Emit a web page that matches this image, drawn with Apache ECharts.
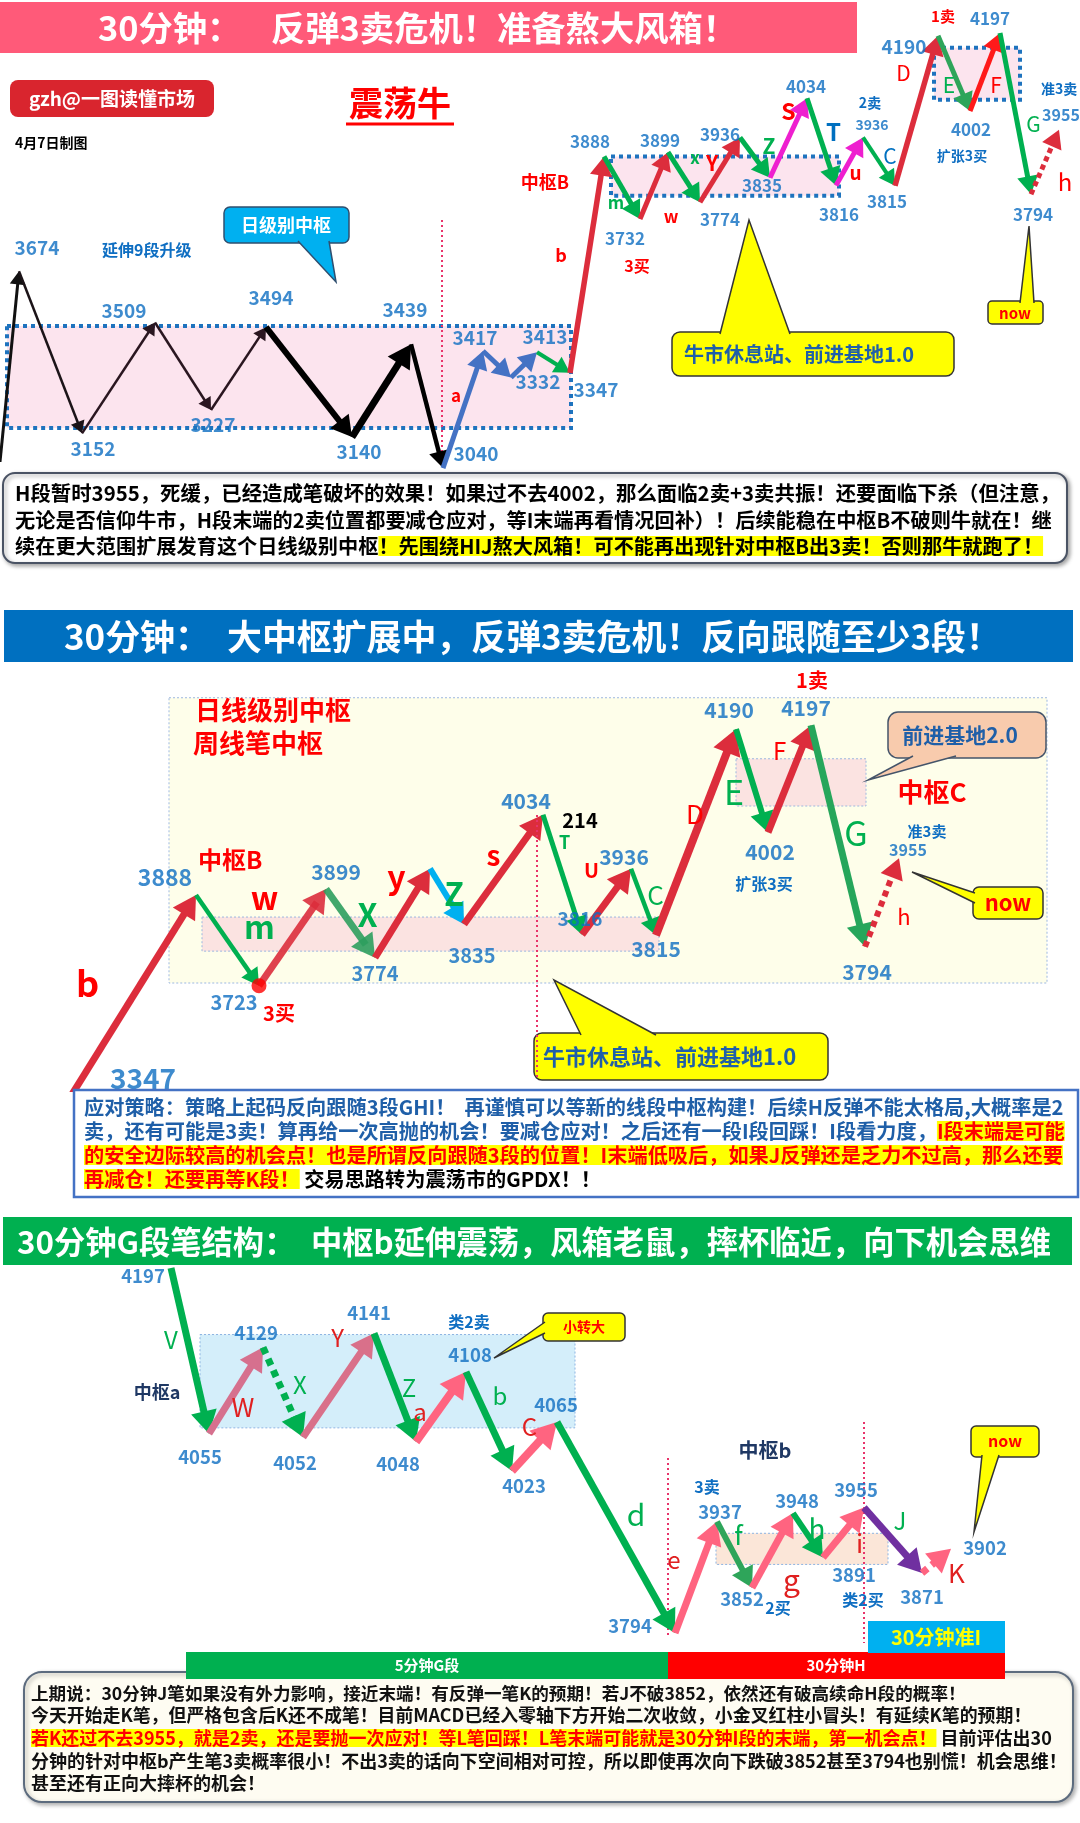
<!DOCTYPE html>
<html>
<head>
<meta charset="utf-8">
<script src="https://cdn.jsdelivr.net/npm/echarts/dist/echarts.min.js"></script>
<style>
html,body{margin:0;padding:0;background:#ffffff;}
#chart{width:1080px;height:1823px;}
</style>
</head>
<body>
<div id="chart"></div>
<script>
// ======================= DATA =======================
// Panel 1 : 30分钟 overview  (left = daily pivot zone, right = 中枢B onwards)
const topLeftTime  = [0, 19, 82, 155, 211, 266, 352, 411, 443, 483, 511, 537, 570];
const topLeftPrice = [3060, 3674, 3152, 3509, 3227, 3494, 3140, 3439, 3040, 3417, 3332, 3413, 3347];
const topLeftSegNames = ['', '', '', '', '', '', '', '', 'a', '', '', ''];
const topRightTime  = [570, 604, 640, 668, 700, 740, 770, 807, 836, 863, 895, 938, 970, 1000, 1031, 1059];
const topRightPrice = [3347, 3888, 3732, 3899, 3774, 3936, 3835, 4034, 3816, 3936, 3815, 4190, 4002, 4197, 3794, 3955];
const topRightSegNames = ['b', 'm', 'w', 'x', 'Y', 'Z', 'S', 'T', 'u', 'C', 'D', 'E', 'F', 'G', 'h'];
const topLeftZones  = [[7, 571, 3169, 3498]];
const topRightZones = [[611, 839, 3790, 3888], [934, 1020, 4030, 4160]];

// Panel 2 : 大中枢扩展
const midTime  = [11, 196, 259, 326, 375, 430, 464, 543, 582, 631, 656, 736, 768, 811, 865, 899];
const midPrice = [3347, 3888, 3723, 3899, 3774, 3936, 3835, 4034, 3816, 3936, 3815, 4190, 4002, 4197, 3794, 3955];
const midSegNames = ['b', 'm', 'w', 'X', 'y', 'Z', 's', 'T', 'U', 'C', 'D', 'E', 'F', 'G', 'h'];
const midZones = [[169, 1047, 3728, 4247], [202, 659, 3786, 3848], [736, 866, 4050, 4136]];
const midBuyPointIndex = 2; // 3723 三买

// Panel 3 : G段笔结构 (left = 中枢a part, right = 中枢b part)
const botLeftTime  = [171, 209, 263, 303, 374, 416, 466, 512, 557];
const botLeftPrice = [4197, 4055, 4129, 4052, 4141, 4048, 4108, 4023, 4065];
const botLeftSegNames = ['V', 'W', 'X', 'Y', 'Z', 'a', 'b', 'C'];
const botRightTime  = [557, 675, 717, 752, 793, 823, 864, 922, 951];
const botRightPrice = [4065, 3794, 3937, 3852, 3948, 3891, 3955, 3871, 3902];
const botRightSegNames = ['d', 'e', 'f', 'g', 'h', 'i', 'J', 'K'];
const botLeftZones  = [[200, 575, 4060, 4140]];
const botRightZones = [[716, 888, 3882, 3922]];

// ======================= STYLES =======================
const FONT = '"Noto Sans CJK SC","Noto Sans",sans-serif';
const LBLUE = '#0E6EC2', RED = '#DC2D3C', GRN = '#00B050', MAG = '#EE1FCF', PNK = '#FF6480', TRED = '#FF0000';
function S(c, w, o) { return Object.assign({c: c, w: w}, o || {}); }

const topLeftSegStyle = [
  S('#111111', 3), S('#1c1418', 2.5), S('#2a1620', 2.5), S('#2a1620', 2.5), S('#2a1620', 2.5),
  S('#000000', 6), S('#000000', 7), S('#000000', 4.5),
  S('#4472C4', 5, {tc: TRED, fs: 17, fw: 'bold', lx: -7, ly: -14}),
  S('#4472C4', 5), S('#4472C4', 5), S(GRN, 4)
];
const topRightSegStyle = [
  S(RED, 5.5, {tc: TRED, fs: 18, fw: 'bold', lx: -26, ly: -10}),
  S(GRN, 5, {tc: GRN, fs: 17, fw: 'bold', lx: -6, ly: 15}),
  S(RED, 5, {tc: TRED, fs: 17, fw: 'bold', lx: 17, ly: 31}),
  S(GRN, 5, {tc: GRN, fs: 17, fw: 'bold', lx: 11, ly: -20}),
  S(RED, 5, {tc: TRED, fs: 21, fw: 'bold', lx: -8, ly: -7}),
  S(GRN, 5, {tc: GRN, fs: 21, fw: 'bold', lx: 14, ly: -12}),
  S(MAG, 5, {tc: TRED, fs: 23, fw: 'bold', lx: 0, ly: -27}),
  S(GRN, 5, {tc: '#0070C0', fs: 24, fw: 'bold', lx: 12, ly: -10}),
  S(MAG, 5, {tc: TRED, fs: 19, fw: 'bold', lx: 6, ly: 11}),
  S(GRN, 4, {tc: '#0070C0', fs: 21, lx: 11, ly: -6}),
  S(RED, 5.5, {tc: TRED, fs: 21, lx: -13, ly: -38}),
  S('#2EA55A', 5, {tc: GRN, fs: 21, lx: -5, ly: 12}),
  S('#FF1A1A', 5, {tc: TRED, fs: 21, lx: 11, ly: 13}),
  S(GRN, 5, {tc: GRN, fs: 21, lx: 18, ly: 10}),
  S(RED, 5, {dash: true, tc: TRED, fs: 24, lx: 20, ly: 20})
];
const midSegStyle = [
  S(RED, 7, {tc: TRED, fs: 36, fw: 'bold', lx: -16, ly: -60}),
  S(GRN, 4.5, {tc: GRN, fs: 32, fw: 'bold', lx: 32, ly: -14}),
  S(RED, 7, {o: 0.9, tc: TRED, fs: 32, fw: 'bold', lx: -28, ly: -40}),
  S('#2E9E5E', 7, {o: 0.9, tc: GRN, fs: 32, fw: 'bold', lx: 17, ly: -9}),
  S(RED, 7, {tc: TRED, fs: 32, fw: 'bold', lx: -6, ly: -36}),
  S('#00B0F0', 6, {tc: GRN, fs: 32, fw: 'bold', lx: 7, ly: -3}),
  S(RED, 7, {tc: TRED, fs: 28, fw: 'bold', lx: -10, ly: -14}),
  S(GRN, 5, {tc: GRN, fs: 18, fw: 'bold', lx: 2, ly: -33}),
  S(RED, 7, {tc: TRED, fs: 20, fw: 'bold', lx: -15, ly: -31}),
  S(GRN, 4.5, {tc: GRN, fs: 26, lx: 12, ly: -7}),
  S(RED, 8, {tc: TRED, fs: 26, lx: -1, ly: -18}),
  S(GRN, 6, {tc: GRN, fs: 34, lx: -18, ly: 11}),
  S(RED, 7, {tc: TRED, fs: 24, lx: -10, ly: -28}),
  S('#26A65B', 7, {tc: GRN, fs: 34, lx: 18, ly: -3}),
  S(RED, 6, {dash: true, tc: TRED, fs: 22, lx: 22, ly: 14})
];
const botLeftSegStyle = [
  S(GRN, 7, {tc: GRN, fs: 24, lx: -19, ly: -11}),
  S('#D6708E', 7, {tc: '#E02020', fs: 26, lx: 7, ly: 17}),
  S(GRN, 7, {dash: true, tc: GRN, fs: 24, lx: 17, ly: -7}),
  S('#D9708A', 7, {tc: '#E02020', fs: 24, lx: -1, ly: -47}),
  S(GRN, 7, {tc: GRN, fs: 24, lx: 14, ly: 0}),
  S(PNK, 8, {tc: '#E02020', fs: 24, lx: -21, ly: 5}),
  S(GRN, 7, {tc: GRN, fs: 24, lx: 11, ly: -26}),
  S(PNK, 8, {tc: '#E02020', fs: 24, lx: -5, ly: -20})
];
const botRightSegStyle = [
  S(GRN, 7, {tc: GRN, fs: 30, lx: 20, ly: -13}),
  S(PNK, 7, {tc: '#E02020', fs: 24, lx: -22, ly: -17}),
  S('#2EA55A', 6, {tc: GRN, fs: 26, lx: 4, ly: -20}),
  S(PNK, 7, {tc: '#E02020', fs: 30, lx: 19, ly: 29}),
  S(GRN, 6, {tc: GRN, fs: 28, lx: 9, ly: -7}),
  S(PNK, 7, {tc: '#E02020', fs: 26, lx: 16, ly: 11}),
  S('#7030A0', 7, {tc: GRN, fs: 24, lx: 7, ly: -19}),
  S(PNK, 7, {dash: true, tc: '#E02020', fs: 26, lx: 20, ly: 12})
];

// label placement (dx, dy, fontSize) – null = no label
const topLeftLabelPos = [null, [18,-23,19], [11,15,19], [-31,-12,19], [2,15,19], [5,-29,19], [7,15,19], [-6,-34,19], [33,-14,19], [-8,-13,19], [27,4,19], [8,-16,19], null];
const topRightLabelPos = [[26,17,19], [-14,-15,17], [-15,20,17], [-8,-12,17], [20,17,17], [-20,-3,17], [-8,8,17], [-1,-12,17], [3,29,17], [9,-13,14], [-8,16,17], [-34,11,19], [1,19,17], [-10,-14,17], [2,20,17], [2,-15,16]];
const midLabelPos = [[132,-114,28], [-31,-18,23], [-25,17,20], [10,-17,21], [0,16,20], null, [8,31,20], [-17,-14,21], [-2,-16,19], [-7,-12,21], [0,14,21], [-7,-19,21], [2,20,21], [-5,-17,21], [2,25,21], [9,-8,16]];
const botLeftLabelPos = [[-28,8], [-9,23], [-7,-14], [-8,26], [-5,-20], [-18,22], [4,-17], [12,15], [-1,-17]];
const botRightLabelPos = [null, [-45,-7], [3,-10], [-10,11], [4,-12], [31,18], [-8,-18], [0,24], [34,-1]];

const pinkZone = {fill: '#FCE4EE', stroke: '#1E73BE', lw: 4, dash: [4, 4]};
const thinPink = {fill: '#FBE3E1', stroke: '#9DB8E0', lw: 1, dash: [2, 2]};

// ======================= SERIES BUILDERS =======================
function arrowSeries(xi, yi, t, p, names, st) {
  const data = [];
  for (let i = 0; i < t.length - 1; i++) data.push([t[i], p[i], t[i + 1], p[i + 1]]);
  return {
    type: 'custom', xAxisIndex: xi, yAxisIndex: yi, z: 5, clip: true, silent: true,
    encode: {x: [0, 2], y: [1, 3]}, data: data,
    renderItem: function (params, api) {
      const s = st[params.dataIndex];
      const a = api.coord([api.value(0), api.value(1)]);
      const b = api.coord([api.value(2), api.value(3)]);
      const dx = b[0] - a[0], dy = b[1] - a[1], len = Math.hypot(dx, dy) || 1;
      const ux = dx / len, uy = dy / len, nx = -uy, ny = ux;
      const w = s.w, hl = 2.4 * w + 6, hw = 1.3 * w + 4;
      const hx = b[0] - ux * hl, hy = b[1] - uy * hl;
      const op = s.o == null ? 1 : s.o;
      const lineStyle = {stroke: s.c, lineWidth: w, lineCap: 'butt', opacity: op};
      if (s.dash) lineStyle.lineDash = [w, w * 0.8];
      const kids = [
        {type: 'line', shape: {x1: a[0], y1: a[1], x2: b[0] - ux * hl * 0.7, y2: b[1] - uy * hl * 0.7}, style: lineStyle},
        {type: 'polygon', shape: {points: [[b[0], b[1]], [hx + nx * hw, hy + ny * hw], [hx - nx * hw, hy - ny * hw]]}, style: {fill: s.c, opacity: op}}
      ];
      const name = names[params.dataIndex];
      if (name) {
        kids.push({type: 'text', x: (a[0] + b[0]) / 2 + s.lx, y: (a[1] + b[1]) / 2 + s.ly,
          style: {text: name, fill: s.tc, font: (s.fw || 'normal') + ' ' + s.fs + 'px ' + FONT,
                  align: 'center', verticalAlign: 'middle', textAlign: 'center', textVerticalAlign: 'middle'}});
      }
      return {type: 'group', children: kids};
    }
  };
}
function zoneSeries(xi, yi, zones, st) {
  return {
    type: 'custom', xAxisIndex: xi, yAxisIndex: yi, z: 1, silent: true, data: zones,
    encode: {x: [0, 1], y: [2, 3]},
    renderItem: function (params, api) {
      const s = st[params.dataIndex];
      const a = api.coord([api.value(0), api.value(3)]);
      const b = api.coord([api.value(1), api.value(2)]);
      return {type: 'rect', shape: {x: a[0], y: a[1], width: b[0] - a[0], height: b[1] - a[1]},
        style: {fill: s.fill, stroke: s.stroke, lineWidth: s.lw, lineDash: s.dash}};
    }
  };
}
function labelSeries(xi, yi, t, p, pos, defFs) {
  return {
    type: 'scatter', xAxisIndex: xi, yAxisIndex: yi, symbolSize: 1, clip: false, z: 6, silent: true,
    itemStyle: {color: 'rgba(0,0,0,0)'},
    label: {show: true, position: 'inside', color: LBLUE, fontWeight: 'bold', fontFamily: FONT, fontSize: defFs,
      formatter: function (d) { return String(d.value[1]); }},
    data: t.map(function (tv, i) {
      const o = pos[i];
      if (!o) return {value: [tv, p[i]], label: {show: false}};
      return {value: [tv, p[i]], label: {show: true, offset: [o[0], o[1]], fontSize: o[2] || defFs}};
    })
  };
}

// ======================= GRAPHIC HELPERS =======================
const G = [];
const measureCtx = document.createElement('canvas').getContext('2d');
function fitSize(str, targetW, maxFs) {
  measureCtx.font = 'bold 100px ' + FONT;
  const w = measureCtx.measureText(str).width;
  return Math.min(maxFs, Math.floor(1000 * targetW / w) / 10);
}
function rect(x, y, w, h, fill, o) {
  o = o || {};
  G.push({type: 'rect', z: o.z || 40, shape: {x: x, y: y, width: w, height: h, r: o.r || 0},
    style: {fill: fill, stroke: o.stroke || null, lineWidth: o.lw || 0,
      shadowBlur: o.sb || 0, shadowColor: o.sc || 'rgba(0,0,0,0)', shadowOffsetX: o.sx || 0, shadowOffsetY: o.sy || 0}});
}
function text(x, y, s, size, color, o) {
  o = o || {};
  const al = o.a || 'center';
  G.push({type: 'text', z: o.z || 46, x: x, y: y,
    style: {text: s, fill: color, font: (o.w || 'bold') + ' ' + size + 'px ' + FONT,
      align: al, textAlign: al, verticalAlign: 'middle', textVerticalAlign: 'middle'}});
}
function richLine(x, y, parts, fs) {
  const rich = {};
  let s = '';
  parts.forEach(function (p, i) {
    const key = 's' + i;
    s += '{' + key + '|' + p[1] + '}';
    const st = {fill: p[0], font: 'bold ' + fs + 'px ' + FONT, fontSize: fs, fontWeight: 'bold', fontFamily: FONT, lineHeight: fs + 6};
    if (p[2]) st.backgroundColor = p[2];
    rich[key] = st;
  });
  G.push({type: 'text', z: 46, x: x, y: y,
    style: {text: s, rich: rich, font: 'bold ' + fs + 'px ' + FONT, align: 'left', textAlign: 'left', verticalAlign: 'middle', textVerticalAlign: 'middle'}});
}
function line(x1, y1, x2, y2, color, w, dash, z) {
  const st = {stroke: color, lineWidth: w};
  if (dash) st.lineDash = dash;
  G.push({type: 'line', z: z || 44, shape: {x1: x1, y1: y1, x2: x2, y2: y2}, style: st});
}
function callout(x, y, w, h, pts, fill, stroke, r, z) {
  z = z || 42;
  G.push({type: 'rect', z: z, shape: {x: x, y: y, width: w, height: h, r: r}, style: {fill: fill, stroke: stroke, lineWidth: 1.5}});
  G.push({type: 'polygon', z: z + 1, shape: {points: pts}, style: {fill: fill}});
  G.push({type: 'polyline', z: z + 1, shape: {points: [pts[0], pts[2], pts[1]]}, style: {stroke: stroke, lineWidth: 1.5, fill: null}});
}

// ---------- Panel 1 decorations ----------
rect(0, 2, 857, 51, '#FF5A79');
const t1b = '反弹3卖危机！准备熬大风箱！';
const t1fs = fitSize(t1b, 467, 36);
text(98, 28, '30分钟：', t1fs, '#ffffff', {a: 'left'});
text(271, 28, t1b, t1fs, '#ffffff', {a: 'left'});
rect(10, 80, 204, 37, '#D9252E', {r: 8});
text(112, 99, 'gzh@一图读懂市场', 19, '#ffffff');
text(15, 143, '4月7日制图', 14, '#000000', {a: 'left'});
text(400, 103, '震荡牛', 34, '#FF0000');
line(346, 124, 454, 124, '#FF0000', 3);
callout(224, 207, 125, 36, [[298, 241], [329, 241], [336, 282]], '#00B0F0', '#2F4F6F', 6);
text(286, 225, '日级别中枢', 18, '#ffffff');
text(102, 250, '延伸9段升级', 16, LBLUE, {a: 'left'});
line(442, 220, 442, 470, '#E8336A', 2, [2, 3], 4);
text(545, 182, '中枢B', 18, '#FF0000');
text(637, 266, '3买', 16, '#FF0000');
text(870, 103, '2卖', 14, LBLUE);
text(943, 16, '1卖', 15, '#FF0000');
text(962, 156, '扩张3买', 14, LBLUE);
text(1041, 89, '准3卖', 14, LBLUE, {a: 'left'});
callout(672, 332, 282, 44, [[720, 334], [790, 334], [749, 220]], '#FFFF00', '#333333', 8);
text(684, 354, '牛市休息站、前进基地1.0', 20, '#1F5FA8', {a: 'left'});
callout(988, 301, 55, 23, [[1020, 303], [1034, 303], [1029, 226]], '#FFFF00', '#333333', 4);
text(1015, 313, 'now', 15, '#FF0000');
// text box 1
rect(3, 473, 1064, 90, '#ffffff', {stroke: '#4A5364', lw: 2, r: 12, sb: 4, sc: 'rgba(0,0,0,0.35)', sx: 2, sy: 2});
const b1l1 = 'H段暂时3955，死缓，已经造成笔破坏的效果！如果过不去4002，那么面临2卖+3卖共振！还要面临下杀（但注意，';
const b1l2 = '无论是否信仰牛市，H段末端的2卖位置都要减仓应对，等I末端再看情况回补）！后续能稳在中枢B不破则牛就在！继';
const b1l3a = '续在更大范围扩展发育这个日线级别中枢', b1l3b = '！先围绕HIJ熬大风箱！可不能再出现针对中枢B出3卖！否则那牛就跑了！';
richLine(15, 493, [['#000', b1l1]], fitSize(b1l1, 1046, 21));
richLine(15, 520, [['#000', b1l2]], fitSize(b1l2, 1042, 21));
richLine(15, 546, [['#000', b1l3a], ['#000', b1l3b, '#FFFF00']], fitSize(b1l3a + b1l3b, 1030, 21));

// ---------- Panel 2 decorations ----------
rect(4, 610, 1069, 52, '#0070C0');
const t2b = '大中枢扩展中，反弹3卖危机！反向跟随至少3段！';
const t2fs = fitSize(t2b, 775, 36);
text(64, 637, '30分钟：', t2fs, '#ffffff', {a: 'left'});
text(227, 637, t2b, t2fs, '#ffffff', {a: 'left'});
text(195, 710, '日线级别中枢', 26, '#FF0000', {a: 'left'});
text(193, 743, '周线笔中枢', 26, '#FF0000', {a: 'left'});
text(198, 860, '中枢B', 24, '#FF0000', {a: 'left'});
text(279, 1013, '3买', 20, '#FF0000');
text(580, 820, '214', 20, '#000000');
text(812, 680, '1卖', 20, '#FF0000');
text(764, 884, '扩张3买', 16, LBLUE);
text(927, 831, '准3卖', 15, LBLUE);
text(932, 792, '中枢C', 26, '#FF0000');
callout(888, 712, 158, 46, [[913, 756], [956, 756], [868, 780]], '#F8CBAD', '#44546A', 10);
text(960, 735, '前进基地2.0', 21, '#1F5FA8');
callout(973, 887, 70, 32, [[975, 893], [975, 903], [912, 872]], '#FFFF00', '#333333', 6);
text(1008, 903, 'now', 22, '#FF0000');
callout(534, 1033, 294, 47, [[581, 1035], [656, 1035], [554, 980]], '#FFFF00', '#333333', 8);
text(543, 1057, '牛市休息站、前进基地1.0', 22, '#1F5FA8', {a: 'left'});
line(537, 815, 537, 1078, '#E8336A', 2, [2, 3], 47);
// text box 2
rect(74, 1090, 1004, 107, '#ffffff', {stroke: '#4472C4', lw: 2.5});
const b2l1 = '应对策略：策略上起码反向跟随3段GHI！  再谨慎可以等新的线段中枢构建！后续H反弹不能太格局,大概率是2';
const b2l2a = '卖，还有可能是3卖！算再给一次高抛的机会！要减仓应对！之后还有一段I段回踩！I段看力度，', b2l2b = 'I段末端是可能';
const b2l3 = '的安全边际较高的机会点！也是所谓反向跟随3段的位置！I末端低吸后，如果J反弹还是乏力不过高，那么还要';
const b2l4a = '再减仓！还要再等K段！', b2l4b = ' 交易思路转为震荡市的GPDX！！';
const b2fs3 = fitSize(b2l3, 982, 21);
richLine(84, 1107, [['#1F5FA8', b2l1]], fitSize(b2l1, 982, 21));
richLine(84, 1131, [['#1F5FA8', b2l2a], ['#FF0000', b2l2b, '#FFFF00']], fitSize(b2l2a + b2l2b, 982, 21));
richLine(84, 1155, [['#FF0000', b2l3, '#FFFF00']], b2fs3);
richLine(84, 1179, [['#FF0000', b2l4a, '#FFFF00'], ['#000000', b2l4b]], b2fs3);

// ---------- Panel 3 decorations ----------
rect(3, 1217, 1069, 48, '#00B050');
const t3b = '中枢b延伸震荡，风箱老鼠，摔杯临近，向下机会思维';
const t3fs = fitSize(t3b, 741, 34);
text(17, 1242, '30分钟G段笔结构：', t3fs, '#ffffff', {a: 'left'});
text(311, 1242, t3b, t3fs, '#ffffff', {a: 'left'});
text(157, 1392, '中枢a', 18, '#1F3864');
text(469, 1322, '类2卖', 16, LBLUE);
text(765, 1450, '中枢b', 20, '#1F3864');
text(707, 1487, '3卖', 16, LBLUE);
text(778, 1608, '2买', 16, LBLUE);
text(863, 1600, '类2买', 16, LBLUE);
callout(543, 1313, 82, 28, [[545, 1322], [545, 1333], [494, 1358]], '#FFFF00', '#333333', 5);
text(584, 1327, '小转大', 14, '#FF0000');
callout(971, 1426, 68, 31, [[982, 1455], [999, 1455], [974, 1532]], '#FFFF00', '#333333', 5);
text(1005, 1441, 'now', 16, '#FF0000');
line(668, 1458, 668, 1637, '#E8336A', 2, [2, 3], 4);
line(864, 1422, 864, 1643, '#E8336A', 2, [2, 3], 4);
// text box 3
rect(24, 1672, 1049, 130, '#FEFCF2', {stroke: '#5C6B7E', lw: 2, r: 18, sb: 4, sc: 'rgba(0,0,0,0.3)', sx: 2, sy: 2});
rect(186, 1652, 482, 27, '#00B050', {z: 41});
text(427, 1665, '5分钟G段', 15, '#ffffff');
rect(668, 1652, 337, 27, '#FF0000', {z: 41});
text(836, 1665, '30分钟H', 15, '#ffffff');
rect(868, 1621, 137, 32, '#00B0F0', {z: 41});
text(936, 1637, '30分钟准I', 20, '#FFFF00');
const b3l1 = '上期说：30分钟J笔如果没有外力影响，接近末端！有反弹一笔K的预期！若J不破3852，依然还有破高续命H段的概率！';
const b3l2 = '今天开始走K笔，但严格包含后K还不成笔！目前MACD已经入零轴下方开始二次收敛，小金叉红柱小冒头！有延续K笔的预期！';
const b3l3a = '若K还过不去3955，就是2卖，还是要抛一次应对！等L笔回踩！L笔末端可能就是30分钟I段的末端，第一机会点！', b3l3b = ' 目前评估出30';
const b3l4 = '分钟的针对中枢b产生笔3卖概率很小！不出3卖的话向下空间相对可控，所以即使再次向下跌破3852甚至3794也别慌！机会思维！';
const b3l5 = '甚至还有正向大摔杯的机会！';
const b3fs4 = fitSize(b3l4, 1036, 20);
richLine(31, 1693, [['#111', b3l1]], fitSize(b3l1, 937, 20));
richLine(31, 1715, [['#111', b3l2]], fitSize(b3l2, 1002, 20));
richLine(31, 1738, [['#FF0000', b3l3a, '#FFFF00'], ['#111', b3l3b]], fitSize(b3l3a + b3l3b, 1023, 20));
richLine(31, 1761, [['#111', b3l4]], b3fs4);
richLine(31, 1783, [['#111', b3l5]], b3fs4);

// ======================= CHART =======================
const chart = echarts.init(document.getElementById('chart'), null, {renderer: 'canvas'});
const option = {
  animation: false,
  backgroundColor: '#ffffff',
  grid: [
    {left: 0, right: 0, top: 20, height: 500},
    {left: 0, right: 0, top: 690, height: 402},
    {left: 0, right: 0, top: 1265, height: 415}
  ],
  xAxis: [0, 1, 2].map(function (i) { return {type: 'value', gridIndex: i, min: 0, max: 1080, show: false}; }),
  yAxis: [
    {type: 'value', gridIndex: 0, min: 2872.85, max: 4483.2, show: false},
    {type: 'value', gridIndex: 0, min: 2979.5, max: 4229.5, show: false, position: 'right'},
    {type: 'value', gridIndex: 1, min: 3529.7, max: 4261.1, show: false},
    {type: 'value', gridIndex: 2, min: 3843.9, max: 4199.6, show: false},
    {type: 'value', gridIndex: 2, min: 3733.55, max: 4266.65, show: false, position: 'right'}
  ],
  series: [
    zoneSeries(0, 0, topLeftZones, [pinkZone]),
    zoneSeries(0, 1, topRightZones, [pinkZone, pinkZone]),
    arrowSeries(0, 0, topLeftTime, topLeftPrice, topLeftSegNames, topLeftSegStyle),
    arrowSeries(0, 1, topRightTime, topRightPrice, topRightSegNames, topRightSegStyle),
    labelSeries(0, 0, topLeftTime, topLeftPrice, topLeftLabelPos, 19),
    labelSeries(0, 1, topRightTime, topRightPrice, topRightLabelPos, 17),

    zoneSeries(1, 2, midZones, [{fill: '#FEFEEA', stroke: '#9DB8E0', lw: 1, dash: [2, 2]}, thinPink, thinPink]),
    arrowSeries(1, 2, midTime, midPrice, midSegNames, midSegStyle),
    labelSeries(1, 2, midTime, midPrice, midLabelPos, 21),
    {type: 'scatter', xAxisIndex: 1, yAxisIndex: 2, z: 7, silent: true, symbolSize: 15,
     itemStyle: {color: '#FF0000'}, data: [[midTime[midBuyPointIndex], midPrice[midBuyPointIndex]]]},

    zoneSeries(2, 3, botLeftZones, [{fill: '#D4EEFA', stroke: '#8DB4E2', lw: 1, dash: [2, 2]}]),
    zoneSeries(2, 4, botRightZones, [{fill: '#FBE6D8', stroke: '#8DB4E2', lw: 1, dash: [2, 2]}]),
    arrowSeries(2, 3, botLeftTime, botLeftPrice, botLeftSegNames, botLeftSegStyle),
    arrowSeries(2, 4, botRightTime, botRightPrice, botRightSegNames, botRightSegStyle),
    labelSeries(2, 3, botLeftTime, botLeftPrice, botLeftLabelPos, 18.5),
    labelSeries(2, 4, botRightTime, botRightPrice, botRightLabelPos, 18.5)
  ],
  graphic: G
};
chart.setOption(option);
</script>
</body>
</html>
